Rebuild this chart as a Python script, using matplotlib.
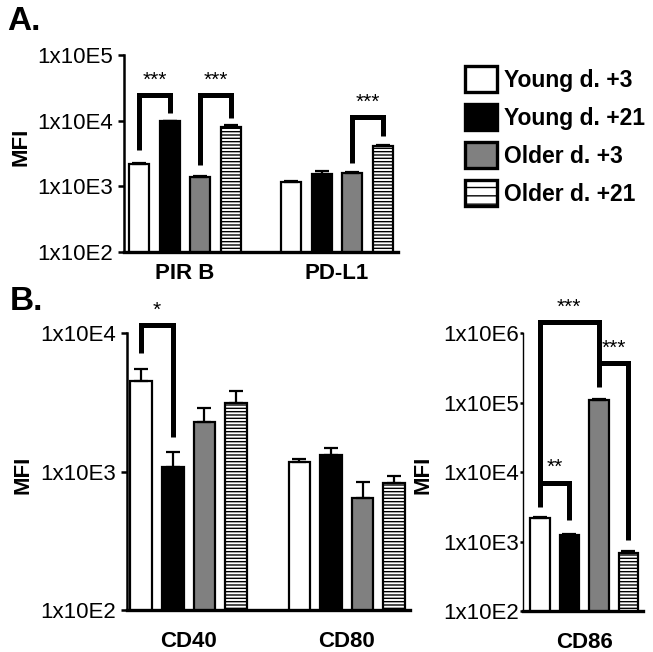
import matplotlib
matplotlib.use("Agg")
import matplotlib.pyplot as plt
import numpy as np
from matplotlib.patches import Patch

plt.rcParams['font.family'] = ['Liberation Sans', 'DejaVu Sans']
plt.rcParams['hatch.linewidth'] = 1.0
plt.rcParams['hatch.color'] = 'black'

# ---------------- data ----------------
groups = ["Young d. +3", "Young d. +21", "Older d. +3", "Older d. +21"]
face_colors = ["white", "black", "#808080", "white"]
hatches = [None, None, None, "-----"]

panelA_markers = ["PIR B", "PD-L1"]
pirb_mean = [2190, 9800, 1380, 7900]
pirb_err = [60, 250, 60, 700]
pdl1_mean = [1170, 1540, 1590, 4100]
pdl1_err = [30, 180, 80, 200]

panelB_markers = ["CD40", "CD80"]
cd40_mean = [4500, 1075, 2275, 3110]
cd40_err = [1000, 305, 605, 690]
cd80_mean = [1170, 1320, 645, 826]
cd80_err = [60, 160, 195, 104]

cd86_mean = [2200, 1240, 110000, 680]
cd86_err = [80, 40, 3000, 40]

yticks_A = [1e2, 1e3, 1e4, 1e5]
yticklabels_A = ["1x10E2", "1x10E3", "1x10E4", "1x10E5"]
yticks_B = [1e2, 1e3, 1e4]
yticklabels_B = ["1x10E2", "1x10E3", "1x10E4"]
yticks_C = [1e2, 1e3, 1e4, 1e5, 1e6]
yticklabels_C = ["1x10E2", "1x10E3", "1x10E4", "1x10E5", "1x10E6"]

# significance brackets: (bar_left, y_left_bottom, y_top, bar_right, y_right_bottom, label, y_label)
sig_A = [(0, 3570, 24500, 1, 13060, "***", 41000),
         (2, 2110, 24500, 3, 11000, "***", 41000),
         (6, 2265, 11350, 7, 5840, "***", 19000)]
sig_B = [(0, 7180, 11430, 1, 1775, "*", 14650)]
sig_C = [(0, 3130, 6950, 1, 2040, "**", 11800),
         (0, 6950, 1.44e6, 2, 167000, "***", 2.37e6),
         (2, 370000, 370000, 3, 1050, "***", 603000)]

W, H = 653, 652
fig = plt.figure(figsize=(W / 100, H / 100), dpi=100)


def px_axes(x0, y0, x1, y1):
    return fig.add_axes([x0 / W, 1 - y1 / H, (x1 - x0) / W, (y1 - y0) / H])


def draw_bars(ax, positions, means, errs, width):
    for i, (p, m, e) in enumerate(zip(positions, means, errs)):
        k = i % 4
        ax.bar(p, m, width=width, color=face_colors[k], edgecolor="black",
               linewidth=1.6, hatch=hatches[k], zorder=2)
        ax.errorbar(p, m, yerr=[[0], [e]], fmt="none", ecolor="black",
                    elinewidth=1.6, capsize=5, capthick=1.6, zorder=3)


def draw_sig(ax, sigs, positions, fs=15):
    for xl, yl, yt, xr, yr, lab, ylab in sigs:
        ax.plot([positions[xl], positions[xl], positions[xr], positions[xr]],
                [yl, yt, yt, yr], color="black", lw=3.6, clip_on=False,
                solid_joinstyle="miter", solid_capstyle="butt", zorder=4)
        ax.text((positions[xl] + positions[xr]) / 2, ylab, lab, ha="center",
                va="center", fontsize=fs, clip_on=False)


def style(ax, yticks, ylabels, ylim, left_lw=1.8, tick_len=4, pad=4):
    ax.set_yscale("log")
    ax.set_ylim(*ylim)
    ax.set_yticks(yticks)
    ax.set_yticklabels(ylabels, fontsize=16)
    ax.yaxis.set_minor_locator(matplotlib.ticker.NullLocator())
    ax.spines["top"].set_visible(False)
    ax.spines["right"].set_visible(False)
    ax.spines["left"].set_linewidth(left_lw)
    ax.spines["bottom"].set_linewidth(2.4)
    ax.tick_params(axis="y", length=tick_len, width=1.8, pad=pad)
    ax.tick_params(axis="x", length=0)


# ---------- Panel A ----------
axA = px_axes(124, 55, 398, 252)
posA = [0, 1, 2, 3, 5, 6, 7, 8]
draw_bars(axA, posA, pirb_mean + pdl1_mean, pirb_err + pdl1_err, 0.66)
style(axA, yticks_A, yticklabels_A, (1e2, 1e5))
axA.set_xlim(-0.5, 8.5)
axA.set_xticks([1.5, 6.5])
axA.set_xticklabels(panelA_markers, fontsize=16, fontweight="bold")
axA.tick_params(axis="x", pad=8)
draw_sig(axA, sig_A, posA)
axA.set_ylabel("MFI", fontsize=16, fontweight="bold")
axA.yaxis.set_label_coords(-0.336, 0.533)

# ---------- Panel B (CD40, CD80) ----------
axB = px_axes(127, 333, 410, 610)
posB = [0, 1, 2, 3, 5, 6, 7, 8]
draw_bars(axB, posB, cd40_mean + cd80_mean, cd40_err + cd80_err, 0.68)
style(axB, yticks_B, yticklabels_B, (1e2, 1e4))
axB.set_xlim(-0.45, 8.5)
axB.set_xticks([1.5, 6.5])
axB.set_xticklabels(panelB_markers, fontsize=16, fontweight="bold")
axB.tick_params(axis="x", pad=15)
draw_sig(axB, sig_B, posB)
axB.set_ylabel("MFI", fontsize=16, fontweight="bold")
axB.yaxis.set_label_coords(-0.332, 0.487)

# ---------- Panel B (CD86) ----------
axC = px_axes(523, 333, 643, 611)
posC = [0, 1, 2, 3]
draw_bars(axC, posC, cd86_mean, cd86_err, 0.66)
style(axC, yticks_C, yticklabels_C, (1e2, 1e6), left_lw=1.0, tick_len=2, pad=1)
axC.set_xlim(-0.57, 3.5)
axC.set_xticks([1.5])
axC.set_xticklabels(["CD86"], fontsize=16, fontweight="bold")
axC.tick_params(axis="x", pad=15)
draw_sig(axC, sig_C, posC)
axC.set_ylabel("MFI", fontsize=16, fontweight="bold")
axC.yaxis.set_label_coords(-0.75, 0.489)

# ---------- legend ----------
handles = [Patch(facecolor=face_colors[k], edgecolor="black", linewidth=2.4,
                 hatch=("--" if hatches[k] else None)) for k in range(4)]
fig.legend(handles, groups, loc="upper left",
           bbox_to_anchor=(465 / W, 1 - 66 / H), frameon=False,
           prop={"size": 16.5, "weight": "bold"}, handlelength=1.4,
           handleheight=1.4, handletextpad=0.3, labelspacing=0.5,
           borderpad=0, borderaxespad=0)

# ---------- panel letters ----------
fig.text(7 / W, 1 - 6 / H, "A.", fontsize=24, fontweight="bold", va="top")
fig.text(10 / W, 1 - 286 / H, "B.", fontsize=24, fontweight="bold", va="top")

fig.savefig("out.png", dpi=100)
